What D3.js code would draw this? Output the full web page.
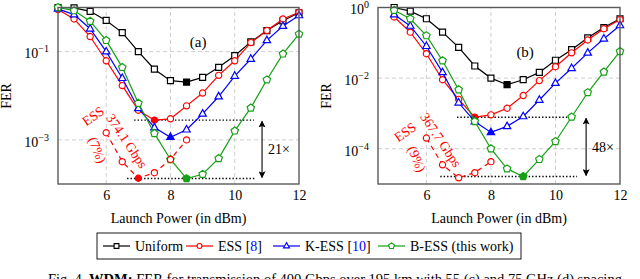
<!DOCTYPE html>
<html>
<head>
<meta charset="utf-8">
<script src="https://cdn.jsdelivr.net/npm/d3@7"></script>
<style>
body { margin: 0; background: #fff; }
svg { display: block; font-family: "Liberation Serif", "Times New Roman", serif; }
</style>
</head>
<body>
<svg id="chart" width="640" height="279"></svg>
<script>
// Panel (a): 55 GHz spacing
const powerA = [4.5, 5, 5.5, 6, 6.5, 7, 7.5, 8, 8.5, 9, 9.5, 10, 10.5, 11, 11.5, 12];
const uniformA = [1.0, 0.98, 0.82, 0.51, 0.27, 0.10, 0.04, 0.022, 0.0204, 0.026, 0.044, 0.081, 0.166, 0.30, 0.50, 0.76];
const essA = [0.9, 0.55, 0.22, 0.062, 0.017, 0.0047, 0.0028, 0.0030, 0.0059, 0.0115, 0.029, 0.062, 0.16, 0.30, 0.55, 0.78];
const kessA = [0.93, 0.69, 0.33, 0.10, 0.025, 0.0052, 0.0019, 0.00115, 0.0017, 0.0039, 0.0096, 0.028, 0.068, 0.18, 0.38, 0.66];
const bessA = [1.0, 0.85, 0.49, 0.18, 0.044, 0.0068, 0.0014, 0.00036, 0.000133, 0.000166, 0.00038, 0.0016, 0.0053, 0.023, 0.089, 0.25];
const lowPowerA = [6, 6.5, 7, 7.5, 8, 8.5];
const essLowA = [0.00145, 0.00032, 0.000135, 0.00018, 0.00036, 0.001];

// Panel (b): 75 GHz spacing
const powerB = [5, 5.5, 6, 6.5, 7, 7.5, 8, 8.5, 9, 9.5, 10, 10.5, 11, 11.5, 12];
const uniformB = [1.0, 0.79, 0.48, 0.20, 0.074, 0.022, 0.010, 0.0065, 0.0090, 0.0145, 0.032, 0.064, 0.138, 0.27, 0.48];
const essB = [0.54, 0.20, 0.049, 0.0090, 0.0025, 0.00078, 0.00091, 0.0014, 0.0032, 0.0085, 0.021, 0.052, 0.12, 0.25, 0.46];
const kessB = [0.63, 0.30, 0.08, 0.0145, 0.0020, 0.00059, 0.00029, 0.00043, 0.00082, 0.0024, 0.0072, 0.019, 0.052, 0.13, 0.31];
const bessB = [0.84, 0.48, 0.16, 0.031, 0.0047, 0.00059, 0.0001, 0.000027, 0.0000163, 0.00005, 0.00016, 0.00079, 0.0039, 0.015, 0.057];
const lowPowerB = [6, 6.5, 7, 7.5, 8];
const essLowB = [0.0002, 0.000035, 0.000015, 0.000021, 0.000043];

const xTicks = [6, 8, 10, 12];
const yTicksA = [1e-1, 1e-3];
const yTicksB = [1e0, 1e-2, 1e-4];

const legendLabels = ["Uniform", "ESS ", "K-ESS ", "B-ESS (this work)"];
const legendRefs = [null, "8", "10", null];

const green = "#15a015";
const svg = d3.select("#chart");

// marker path builders
function markerPath(type) {
    if (type === "square") return "M-3,-3H3V3H-3Z";
    if (type === "triangle") return "M0,-4.2L3.7,2.3H-3.7Z";
    if (type === "pentagon") {
        const pts = d3.range(5).map(k => {
            const a = -Math.PI / 2 + k * 2 * Math.PI / 5;
            return [3.9 * Math.cos(a), 3.9 * Math.sin(a)];
        });
        return "M" + pts.join("L") + "Z";
    }
    return d3.arc()({innerRadius: 0, outerRadius: 3.1, startAngle: 0, endAngle: 2 * Math.PI});
}

// arrow heads for the gain annotation
const defs = svg.append("defs");
defs.append("marker")
    .attr("id", "head")
    .attr("viewBox", "0 0 10 10")
    .attr("refX", 9).attr("refY", 5)
    .attr("markerWidth", 7).attr("markerHeight", 7)
    .attr("markerUnits", "userSpaceOnUse")
    .attr("orient", "auto-start-reverse")
    .append("path")
    .attr("d", "M0,0L10,5L0,10L2,5Z")
    .attr("fill", "#000");

function drawPanel(p) {
    const x = d3.scaleLinear().domain([4.5, 12]).range(p.xRange);
    const y = d3.scaleLog().domain(p.yDomain).range([184, 7.5]);
    const g = svg.append("g");

    // grid
    g.selectAll(".vg").data(xTicks.filter(t => t < 12)).enter().append("line")
        .attr("x1", d => x(d)).attr("x2", d => x(d))
        .attr("y1", y.range()[0]).attr("y2", y.range()[1])
        .attr("stroke", "#c8c8c8").attr("stroke-width", 0.9).attr("stroke-dasharray", "4,3");
    g.selectAll(".hg").data(p.yTicks.filter(t => t < 1)).enter().append("line")
        .attr("x1", p.xRange[0]).attr("x2", p.xRange[1])
        .attr("y1", d => y(d)).attr("y2", d => y(d))
        .attr("stroke", "#c8c8c8").attr("stroke-width", 0.9).attr("stroke-dasharray", "4,3");

    // axes (labels only; frame drawn after)
    const xAxis = g.append("g").attr("transform", `translate(0,184)`)
        .call(d3.axisBottom(x).tickValues(xTicks).tickSize(0).tickPadding(6).tickFormat(d3.format("d")));
    xAxis.select(".domain").remove();
    xAxis.selectAll("text").attr("font-size", 14).attr("font-family", "Liberation Serif").attr("fill", "#000");

    const yAxis = g.append("g").attr("transform", `translate(${p.xRange[0]},0)`)
        .call(d3.axisLeft(y).tickValues(p.yTicks).tickSize(0).tickPadding(9).tickFormat(""));
    yAxis.select(".domain").remove();
    yAxis.selectAll(".tick text").each(function(d) {
        const t = d3.select(this)
            .attr("font-size", 14).attr("font-family", "Liberation Serif").attr("fill", "#000")
            .attr("dy", "0.45em");
        const e = Math.round(Math.log10(d));
        t.append("tspan").text("10");
        t.append("tspan").attr("dy", -6).attr("font-size", 10)
            .text(e === 0 ? "0" : "\u2212" + Math.abs(e));
    });

    g.append("text")
        .attr("transform", `translate(${p.xRange[0] - 47},96) rotate(-90)`)
        .attr("text-anchor", "middle").attr("font-size", 14).text("FER");
    g.append("text")
        .attr("x", (p.xRange[0] + p.xRange[1]) / 2).attr("y", 223)
        .attr("text-anchor", "middle").attr("font-size", 14).text("Launch Power (in dBm)");

    // panel tag
    g.append("text").attr("x", x(p.tag[1])).attr("y", y(p.tag[2]))
        .attr("text-anchor", "middle").attr("font-size", 15).text(p.tag[0]);

    // dotted reference lines and gain arrow
    p.refLines.forEach(r => {
        g.append("line")
            .attr("x1", x(r[0])).attr("x2", x(r[1]))
            .attr("y1", y(r[2])).attr("y2", y(r[2]))
            .attr("stroke", "#000").attr("stroke-width", 1.4).attr("stroke-dasharray", "1.4,2");
    });
    g.append("line")
        .attr("x1", x(p.arrowX)).attr("x2", x(p.arrowX))
        .attr("y1", y(p.refLines[0][2]) + 1).attr("y2", y(p.refLines[1][2]) - 1)
        .attr("stroke", "#000").attr("stroke-width", 1.1)
        .attr("marker-start", "url(#head)").attr("marker-end", "url(#head)");
    g.append("text")
        .attr("x", x(p.arrowX) + 6).attr("y", (y(p.refLines[0][2]) + y(p.refLines[1][2])) / 2 + 5)
        .attr("font-size", 14).text(p.gain);

    // series
    const line = d3.line().x(d => x(d[0])).y(d => y(d[1]));
    p.series.forEach(s => {
        const pts = s.xs.map((v, i) => [v, s.ys[i]]);
        g.append("path").datum(pts)
            .attr("d", line).attr("fill", "none")
            .attr("stroke", s.color).attr("stroke-width", 1.2)
            .attr("stroke-dasharray", s.dash || null);
        g.selectAll(null).data(pts).enter().append("path")
            .attr("transform", d => `translate(${x(d[0])},${y(d[1])})`)
            .attr("d", markerPath(s.marker))
            .attr("fill", d => d[0] === s.filled ? s.color : "#fff")
            .attr("stroke", s.color).attr("stroke-width", 1.2);
    });

    // rotated ESS annotation
    p.note.forEach(n => {
        g.append("text")
            .attr("transform", `translate(${n[1]},${n[2]}) rotate(${n[3]})`)
            .attr("text-anchor", "middle").attr("dy", "0.35em")
            .attr("font-size", 13.5).attr("fill", "#ff0000").text(n[0]);
    });

    // frame
    g.append("rect")
        .attr("x", p.xRange[0]).attr("y", 7.5)
        .attr("width", p.xRange[1] - p.xRange[0]).attr("height", 184 - 7.5)
        .attr("fill", "none").attr("stroke", "#5a5a5a").attr("stroke-width", 1.4);
}

drawPanel({
    xRange: [58, 299],
    yDomain: [1e-4, 1],
    yTicks: yTicksA,
    tag: ["(a)", 8.86, 0.13],
    refLines: [[6.87, 10.6, 0.0028], [6.65, 10.66, 0.000133]],
    arrowX: 10.85,
    gain: "21\u00d7",
    note: [["ESS", 93, 116, -35], ["374.1 Gbps", 127, 141, 56], ["(7%)", 97.5, 150, 68]],
    series: [
        {xs: powerA, ys: uniformA, color: "#000", marker: "square", filled: 8.5},
        {xs: powerA, ys: essA, color: "#ff0000", marker: "circle", filled: 7.5},
        {xs: powerA, ys: kessA, color: "#0000ff", marker: "triangle", filled: 8},
        {xs: powerA, ys: bessA, color: green, marker: "pentagon", filled: 8.5},
        {xs: lowPowerA, ys: essLowA, color: "#ff0000", marker: "circle", filled: 7, dash: "5,4"}
    ]
});

drawPanel({
    xRange: [378, 620],
    yDomain: [1e-5, 1],
    yTicks: yTicksB,
    tag: ["(b)", 9.06, 0.04],
    refLines: [[6.95, 10.56, 0.00078], [6.43, 10.67, 0.0000163]],
    arrowX: 10.95,
    gain: "48\u00d7",
    note: [["ESS", 405, 132, -35], ["367.7 Gbps", 441, 140, 56], ["(9%)", 417, 159, 68]],
    series: [
        {xs: powerB, ys: uniformB, color: "#000", marker: "square", filled: 8.5},
        {xs: powerB, ys: essB, color: "#ff0000", marker: "circle", filled: 7.5},
        {xs: powerB, ys: kessB, color: "#0000ff", marker: "triangle", filled: 8},
        {xs: powerB, ys: bessB, color: green, marker: "pentagon", filled: 9},
        {xs: lowPowerB, ys: essLowB, color: "#ff0000", marker: "circle", filled: null, dash: "5,4"}
    ]
});

// legend
const legend = svg.append("g");
legend.append("rect").attr("x", 97).attr("y", 233).attr("width", 424).attr("height", 26)
    .attr("fill", "#fff").attr("stroke", "#000").attr("stroke-width", 0.9);
const legendColors = ["#000", "#ff0000", "#0000ff", green];
const legendMarkers = ["square", "circle", "triangle", "pentagon"];
const legendX = [103, 186, 273, 378];
legendLabels.forEach((lab, i) => {
    const lx = legendX[i];
    legend.append("line").attr("x1", lx).attr("x2", lx + 27).attr("y1", 246).attr("y2", 246)
        .attr("stroke", legendColors[i]).attr("stroke-width", 1.2);
    legend.append("path").attr("transform", `translate(${lx + 13.5},246) scale(0.8)`)
        .attr("d", markerPath(legendMarkers[i]))
        .attr("fill", "#fff").attr("stroke", legendColors[i]).attr("stroke-width", 1.4);
    const t = legend.append("text").attr("x", lx + 32).attr("y", 251).attr("font-size", 14);
    t.append("tspan").text(lab);
    if (legendRefs[i]) {
        t.append("tspan").text("[");
        t.append("tspan").attr("fill", "#0000ff").text(legendRefs[i]);
        t.append("tspan").text("]");
    }
});

// caption (cut by the picture edge, as in the source figure)
const cap = svg.append("text").attr("x", 48).attr("y", 284).attr("font-size", 14.5);
cap.append("tspan").text("Fig. 4.  ");
cap.append("tspan").attr("font-weight", "bold").text("WDM:");
cap.append("tspan").text(" FER for transmission of 400 Gbps over 195 km with 55 (c) and 75 GHz (d) spacing");
</script>
</body>
</html>
